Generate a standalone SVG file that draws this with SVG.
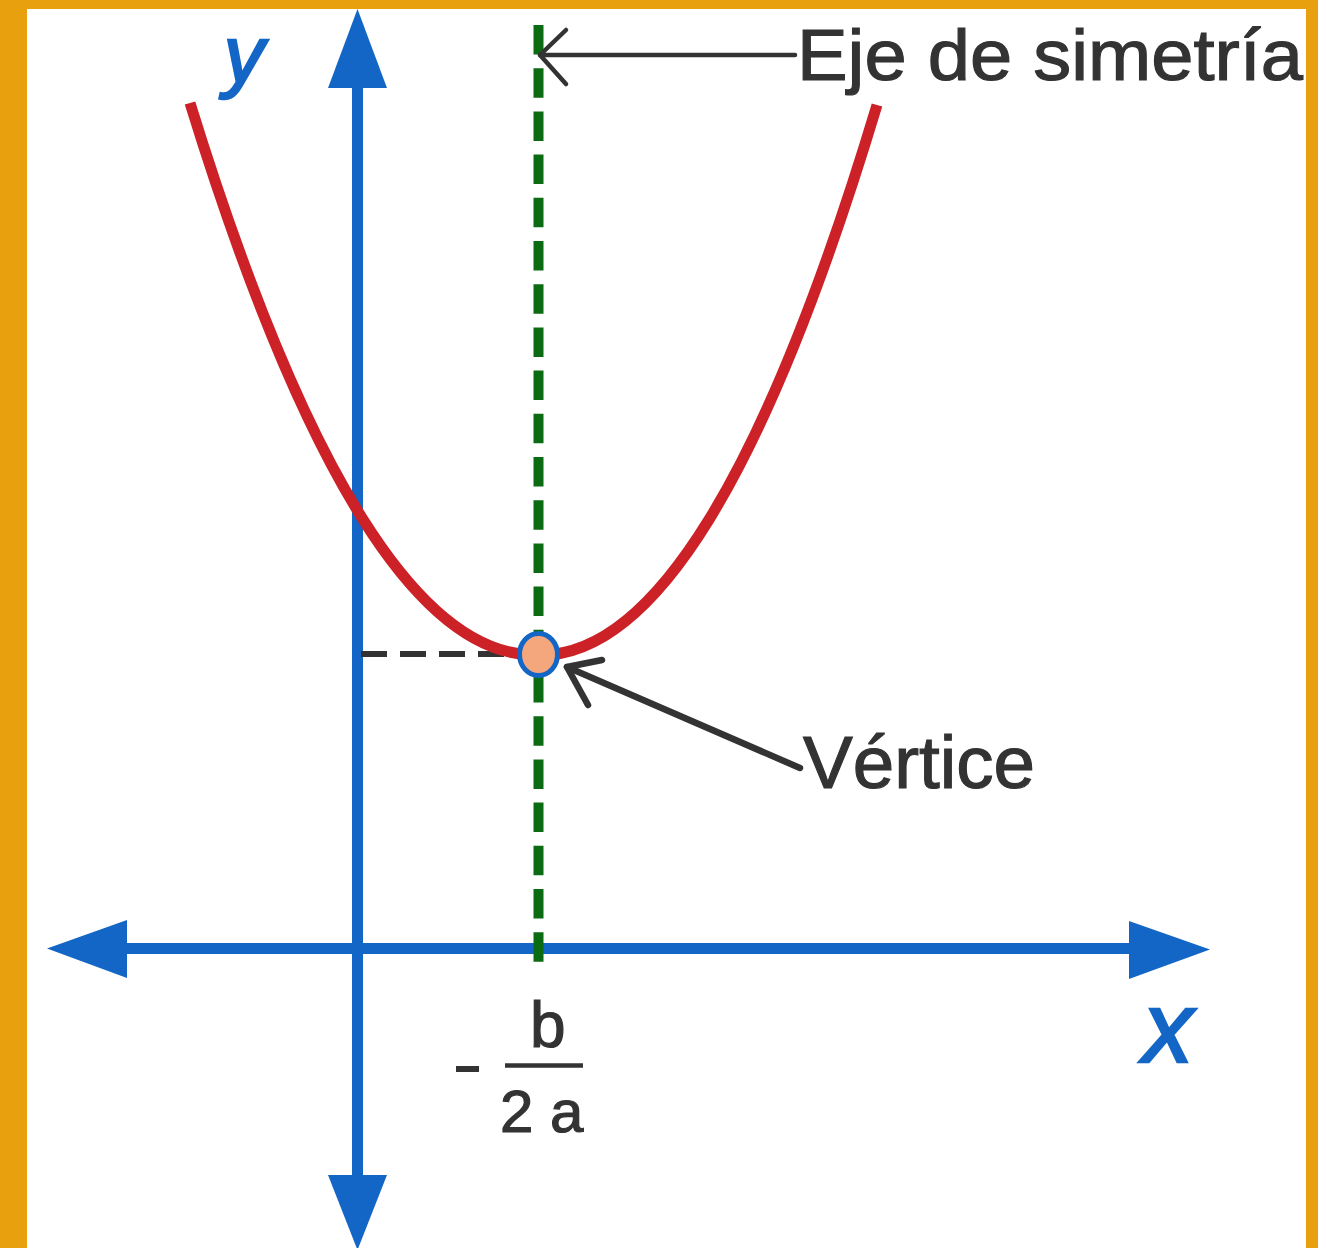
<svg xmlns="http://www.w3.org/2000/svg" width="1318" height="1248" viewBox="0 0 1318 1248">
  <style>
    .axis { stroke: #1466C6; fill: none; }
    .head { fill: #1466C6; }
    .lbl { font-family: "Liberation Sans", Arial, sans-serif; fill: #333333; stroke: #333333; stroke-width: 1.2; }
    .axlbl { font-family: "Liberation Sans", Arial, sans-serif; font-style: italic; fill: #1466C6; stroke: #1466C6; stroke-width: 2.5; }
    .pointer { stroke: #333333; fill: none; stroke-linecap: round; stroke-linejoin: round; }
  </style>
  <rect x="0" y="0" width="1318" height="1248" fill="#E9A00E"/>
  <rect x="27" y="9" width="1279" height="1239" fill="#FFFFFF"/>

  <g id="axes">
    <line class="axis" x1="357.5" y1="86" x2="357.5" y2="1177" stroke-width="11"/>
    <polygon class="head" points="357.5,9 328,88 387,88"/>
    <polygon class="head" points="357.5,1250 328,1175 387,1175"/>
    <line class="axis" x1="125" y1="948.5" x2="1131" y2="948.5" stroke-width="11"/>
    <polygon class="head" points="47,948.5 127,920 127,978"/>
    <polygon class="head" points="1210,949.5 1129,921 1129,979"/>
  </g>

  <g id="axis-labels">
    <text class="axlbl" x="224" y="82" font-size="80">y</text>
    <text class="axlbl" x="1143" y="1062" font-size="100">x</text>
  </g>

  <g id="connectors">
    <line id="symmetry-axis" x1="538.5" y1="25" x2="538.5" y2="962" stroke="#0B6B12" stroke-width="10" stroke-dasharray="29.5 13.7"/>
    <line id="vertex-level" x1="361" y1="654" x2="512" y2="654" stroke="#333333" stroke-width="6" stroke-dasharray="26 13"/>
    <g id="pointer-eje">
      <line class="pointer" x1="540" y1="55" x2="795" y2="55" stroke-width="4.5"/>
      <polyline class="pointer" points="566,30 540,55 566,84" stroke-width="4.5"/>
    </g>
    <g id="pointer-vertice">
      <line class="pointer" x1="800" y1="768" x2="567" y2="667" stroke-width="6.5"/>
      <polyline class="pointer" points="602,660 567,667 588,705" stroke-width="6.5"/>
    </g>
  </g>

  <g id="parabola">
    <path d="M190,103 Q362,660 538,655 Q710,660 877,105" fill="none" stroke="#CD2128" stroke-width="11"/>
  </g>

  <g id="vertex">
    <ellipse cx="538.5" cy="654.5" rx="19" ry="21" fill="#F4A77C" stroke="#1466C6" stroke-width="5"/>
  </g>

  <g id="label-eje">
    <text class="lbl" x="797" y="80" font-size="73" textLength="506" lengthAdjust="spacingAndGlyphs">Eje de simetría</text>
  </g>

  <g id="label-vertice">
    <text class="lbl" x="803" y="788" font-size="74" textLength="232" lengthAdjust="spacingAndGlyphs">Vértice</text>
  </g>

  <g id="label-fraction">
    <line x1="456" y1="1069" x2="479" y2="1069" stroke="#333333" stroke-width="6"/>
    <text class="lbl" x="530" y="1047" font-size="64">b</text>
    <line x1="505" y1="1065.5" x2="583" y2="1065.5" stroke="#333333" stroke-width="4.5"/>
    <text class="lbl" x="500" y="1132" font-size="60">2 a</text>
  </g>
</svg>
